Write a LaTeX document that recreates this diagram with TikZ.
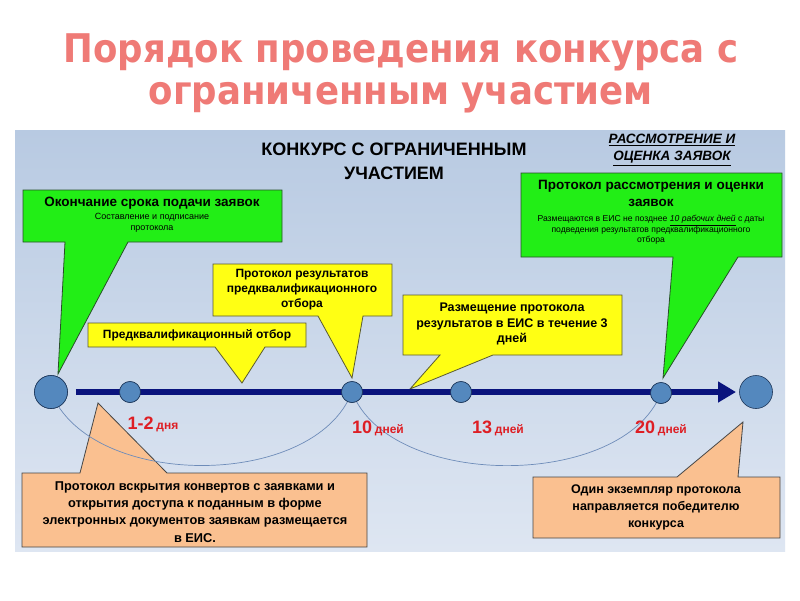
\documentclass[tikz,border=0pt]{standalone}
\usepackage{fontspec}
\setmainfont{Liberation Sans}
\newfontfamily\titlefont{DejaVu Sans Condensed}
\usetikzlibrary{arrows.meta}
\definecolor{titlered}{RGB}{239,122,118}
\definecolor{paneltop}{RGB}{184,202,226}
\definecolor{panelbot}{RGB}{222,230,242}
\definecolor{boxgreen}{RGB}{34,238,22}
\definecolor{boxgreenline}{RGB}{40,80,40}
\definecolor{boxyellow}{RGB}{255,255,20}
\definecolor{boxyellowline}{RGB}{90,90,50}
\definecolor{boxorange}{RGB}{250,192,144}
\definecolor{boxorangeline}{RGB}{70,70,70}
\definecolor{navy}{RGB}{10,20,125}
\definecolor{dotfill}{RGB}{84,136,190}
\definecolor{dotline}{RGB}{30,55,90}
\definecolor{arcline}{RGB}{110,140,185}
\definecolor{dayred}{RGB}{222,30,36}
\newcommand\daytext[2]{{\fontsize{18}{20}\selectfont #1} {\fontsize{12}{14}\selectfont #2}}
\begin{document}
\begin{tikzpicture}[x=1pt,y=-1pt,
  greenbox/.style={fill=boxgreen,draw=boxgreenline,line width=0.8pt,line join=miter},
  yellowbox/.style={fill=boxyellow,draw=boxyellowline,line width=0.8pt,line join=miter},
  orangebox/.style={fill=boxorange,draw=boxorangeline,line width=0.8pt,line join=miter},
  boxtext/.style={align=center,inner sep=0pt,font=\bfseries\fontsize{12.5}{16}\selectfont},
  bigdot/.style={circle,fill=dotfill,draw=dotline,line width=0.6pt,minimum size=33pt,inner sep=0pt},
  smalldot/.style={circle,fill=dotfill,draw=dotline,line width=0.6pt,minimum size=21pt,inner sep=0pt},
  daylbl/.style={text=dayred,font=\bfseries,inner sep=0pt},
  arcstyle/.style={draw=arcline,line width=0.7pt}]
\useasboundingbox (0,0) rectangle (800,600);
\fill[white] (0,0) rectangle (800,600);
\shade[top color=paneltop,bottom color=panelbot] (15,130) rectangle (785,551);

% title
\node[text=titlered,font=\titlefont\bfseries\fontsize{39.5}{42}\selectfont,align=center,inner sep=0pt] (title) at (401,73)
  {Порядок проведения конкурса с\\ограниченным участием};

\node[font=\bfseries\fontsize{18}{24}\selectfont,align=center,inner sep=0pt] (head) at (394,161)
  {КОНКУРС С ОГРАНИЧЕННЫМ\\УЧАСТИЕМ};
\node[font=\bfseries\itshape\fontsize{13.5}{17}\selectfont,align=center,inner sep=0pt] (head2) at (672,150)
  {\underline{РАССМОТРЕНИЕ И}\\\underline{ОЦЕНКА ЗАЯВОК}};

% callouts
\filldraw[greenbox] (23,190) -- (282,190) -- (282,242) -- (128,242) -- (58,374) -- (65,242) -- (23,242) -- cycle;
\node[boxtext,font=\bfseries\fontsize{13.5}{15}\selectfont] (g1) at (152,203) {Окончание срока подачи заявок};
\node[align=center,inner sep=0pt,font=\fontsize{9}{11.5}\selectfont] (g1s) at (152,223) {Составление и подписание\\протокола};

\filldraw[greenbox] (521,173) -- (782,173) -- (782,257) -- (738,257) -- (663,378) -- (673,257) -- (521,257) -- cycle;
\node[boxtext,font=\bfseries\fontsize{13.5}{17}\selectfont] (g2) at (651,193) {Протокол рассмотрения и оценки\\заявок};
\node[align=center,inner sep=0pt,font=\fontsize{8.6}{10.5}\selectfont] (g2s) at (651,230)
  {Размещаются в ЕИС не позднее \textit{\underline{10 рабочих дней}} с даты\\подведения результатов предквалификационного\\отбора};

\filldraw[yellowbox] (213,264) -- (392,264) -- (392,316) -- (363,316) -- (352,378) -- (318,316) -- (213,316) -- cycle;
\node[boxtext,font=\bfseries\fontsize{12}{15}\selectfont] (y1) at (302,290) {Протокол результатов\\предквалификационного\\отбора};

\filldraw[yellowbox] (88,323) -- (306,323) -- (306,347) -- (265,347) -- (242,383) -- (215,347) -- (88,347) -- cycle;
\node[boxtext,font=\bfseries\fontsize{12}{15}\selectfont] (y2) at (197,335) {Предквалификационный отбор};

\filldraw[yellowbox] (403,295) -- (622,295) -- (622,355) -- (493,355) -- (410,389) -- (440,355) -- (403,355) -- cycle;
\node[boxtext,font=\bfseries\fontsize{12.5}{15.5}\selectfont] (y3) at (512,324) {Размещение протокола\\результатов в ЕИС в течение 3\\дней};

\filldraw[orangebox] (22,473) -- (80,473) -- (98,403) -- (167,473) -- (367,473) -- (367,547) -- (22,547) -- cycle;
\node[boxtext,font=\bfseries\fontsize{12.8}{17.2}\selectfont] (o1) at (195,512) {Протокол вскрытия конвертов с заявками и\\открытия доступа к поданным в форме\\электронных документов заявкам размещается\\в ЕИС.};

\filldraw[orangebox] (533,477) -- (677,477) -- (743,422) -- (738,477) -- (780,477) -- (780,538) -- (533,538) -- cycle;
\node[boxtext,font=\bfseries\fontsize{12.5}{17}\selectfont] (o2) at (656,507) {Один экземпляр протокола\\направляется победителю\\конкурса};

% timeline
\node[bigdot] (c0) at (51,392) {};
\node[smalldot] (c1) at (130,392) {};
\node[smalldot] (c2) at (352,392) {};
\node[smalldot] (c3) at (461,392) {};
\node[smalldot] (c4) at (661,393) {};
\node[bigdot] (c5) at (756,392) {};
\coordinate (tip) at (736,392);

\draw[arcstyle] (c0.center) .. controls (90,490) and (314,490) .. (c2.center);
\draw[arcstyle] (c2.center) .. controls (390,490) and (623,490) .. (c4.center);

\draw[draw=navy,line width=6pt,shorten <=8pt,-{Triangle[length=18pt,width=20pt]}] (c0.east) -- (tip);

\node[bigdot] at (c0) {};
\node[smalldot] at (c1) {};
\node[smalldot] at (c2) {};
\node[smalldot] at (c3) {};
\node[smalldot] at (c4) {};

\node[daylbl] (d1) at (153,424) {\daytext{1-2}{дня}};
\node[daylbl] (d2) at (378,428) {\daytext{10}{дней}};
\node[daylbl] (d3) at (498,428) {\daytext{13}{дней}};
\node[daylbl] (d4) at (661,428) {\daytext{20}{дней}};
\end{tikzpicture}
\end{document}
